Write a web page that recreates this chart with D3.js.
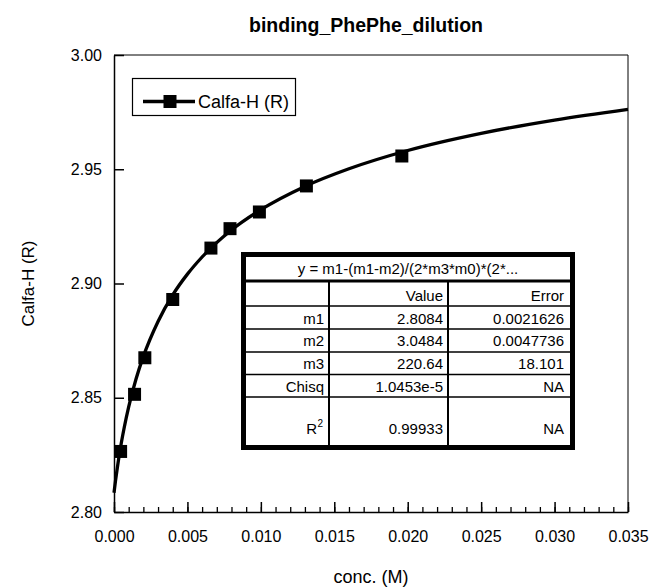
<!DOCTYPE html>
<html>
<head>
<meta charset="utf-8">
<script src="https://cdn.jsdelivr.net/npm/d3@7"></script>
<style>
  body { margin: 0; background: #fff; }
  svg { display: block; font-family: "Liberation Sans", Arial, sans-serif; }
</style>
</head>
<body>
<div id="chart"></div>
<script>
// measured points
const concX = [0.00045, 0.0014, 0.0021, 0.0040, 0.0066, 0.0079, 0.0099, 0.0131, 0.0196];
const calfaH = [2.8265, 2.8515, 2.8675, 2.8930, 2.9155, 2.9240, 2.9313, 2.9427, 2.9558];

// fitted curve
const fitX = [0, 0.0001, 0.0002, 0.0003, 0.0005, 0.0007, 0.001, 0.0015, 0.002, 0.003, 0.004,
  0.005, 0.006, 0.008, 0.010, 0.013, 0.016, 0.020, 0.025, 0.030, 0.035];
const fitY = [2.8084, 2.8135, 2.8182, 2.8225, 2.8303, 2.8371, 2.8460, 2.8582, 2.8681, 2.8834, 2.8950,
  2.9041, 2.9116, 2.9234, 2.9323, 2.9425, 2.9502, 2.9582, 2.9657, 2.9715, 2.9762];

const xTicks = [0, 0.005, 0.010, 0.015, 0.020, 0.025, 0.030, 0.035];
const yTicks = [2.80, 2.85, 2.90, 2.95, 3.00];

// fit result table
const fitEquation = 'y = m1-(m1-m2)/(2*m3*m0)*(2*...';
const paramNames = ['m1', 'm2', 'm3', 'Chisq', 'R'];
const paramValues = ['2.8084', '3.0484', '220.64', '1.0453e-5', '0.99933'];
const paramErrors = ['0.0021626', '0.0047736', '18.101', 'NA', 'NA'];

const W = 649, H = 588;
const margin = {top: 55, right: 21, bottom: 76, left: 114};

const svg = d3.select('#chart').append('svg')
  .attr('width', W)
  .attr('height', H);

const x = d3.scaleLinear().domain([0, 0.035]).range([margin.left, W - margin.right]);
const y = d3.scaleLinear().domain([2.80, 3.00]).range([H - margin.bottom, margin.top]);

// frame (top + right)
svg.append('path')
  .attr('d', `M${x(0)},${y(3)}H${x(0.035)}V${y(2.8)}`)
  .attr('fill', 'none')
  .attr('stroke', '#000')
  .attr('stroke-width', 1);

// minor x ticks
svg.append('g')
  .attr('transform', `translate(0,${y(2.8)})`)
  .call(d3.axisBottom(x).tickValues(d3.range(0, 36).map(i => i / 1000)).tickSize(-5).tickFormat(''))
  .call(g => g.select('.domain').remove())
  .call(g => g.selectAll('line').attr('stroke-width', 1.3));

const xAxis = svg.append('g')
  .attr('transform', `translate(0,${y(2.8)})`)
  .call(d3.axisBottom(x).tickValues(xTicks).tickFormat(d3.format('.3f'))
    .tickSize(-10).tickSizeOuter(0).tickPadding(19));
xAxis.selectAll('text').attr('font-size', 16).attr('font-family', null).attr('fill', '#000');
xAxis.selectAll('line, .domain').attr('stroke-width', 1.5);

const yAxis = svg.append('g')
  .attr('transform', `translate(${x(0)},0)`)
  .call(d3.axisLeft(y).tickValues(yTicks).tickFormat(d3.format('.2f'))
    .tickSize(-10).tickSizeOuter(0).tickPadding(12));
yAxis.selectAll('text').attr('font-size', 16).attr('font-family', null).attr('fill', '#000');
yAxis.selectAll('line, .domain').attr('stroke-width', 1.5);

// title and axis labels
svg.append('text')
  .attr('x', 366).attr('y', 32)
  .attr('text-anchor', 'middle')
  .attr('font-size', 19.5).attr('font-weight', 'bold')
  .text('binding_PhePhe_dilution');

svg.append('text')
  .attr('x', (x(0) + x(0.035)) / 2).attr('y', 583)
  .attr('text-anchor', 'middle')
  .attr('font-size', 18)
  .text('conc. (M)');

svg.append('text')
  .attr('transform', `translate(34,${(y(2.8) + y(3)) / 2}) rotate(-90)`)
  .attr('text-anchor', 'middle')
  .attr('font-size', 17)
  .text('Calfa-H (R)');

// fit curve
const fitData = fitX.map((v, i) => ({x: v, y: fitY[i]}));
svg.append('path')
  .datum(fitData)
  .attr('fill', 'none')
  .attr('stroke', '#000')
  .attr('stroke-width', 3.3)
  .attr('stroke-linejoin', 'round')
  .attr('d', d3.line().x(d => x(d.x)).y(d => y(d.y)).curve(d3.curveMonotoneX));

// data markers
const ms = 13;
svg.selectAll('.pt')
  .data(concX.map((v, i) => ({x: v, y: calfaH[i]})))
  .enter()
  .append('rect')
  .attr('class', 'pt')
  .attr('x', d => x(d.x) - ms / 2)
  .attr('y', d => y(d.y) - ms / 2)
  .attr('width', ms)
  .attr('height', ms)
  .attr('fill', '#000');

// legend
const lg = svg.append('g');
lg.append('rect')
  .attr('x', 132.5).attr('y', 78.5).attr('width', 163).attr('height', 37)
  .attr('fill', '#fff').attr('stroke', '#000').attr('stroke-width', 1.2);
lg.append('line')
  .attr('x1', 143).attr('x2', 195).attr('y1', 101.5).attr('y2', 101.5)
  .attr('stroke', '#000').attr('stroke-width', 3.3);
lg.append('rect')
  .attr('x', 170 - ms / 2).attr('y', 101.5 - ms / 2).attr('width', ms).attr('height', ms)
  .attr('fill', '#000');
lg.append('text')
  .attr('x', 198).attr('y', 107.5)
  .attr('font-size', 18)
  .text('Calfa-H (R)');

// parameter table
const tb = svg.append('g');
const tL = 246, tR = 570, tT = 257, tB = 445;
const col1 = 329, col2 = 448;
const rowLines = [281, 306, 329, 352, 374.5, 397];
const fs = 15;
tb.append('rect')
  .attr('x', tL).attr('y', tT).attr('width', tR - tL).attr('height', tB - tT)
  .attr('fill', '#fff');
rowLines.slice(1).forEach(ry => {
  tb.append('line')
    .attr('x1', tL).attr('x2', tR).attr('y1', ry).attr('y2', ry)
    .attr('stroke', '#000').attr('stroke-width', 1.3);
});
tb.append('line')
  .attr('x1', tL).attr('x2', tR).attr('y1', rowLines[0]).attr('y2', rowLines[0])
  .attr('stroke', '#000').attr('stroke-width', 3);
[col1, col2].forEach(cx => {
  tb.append('line')
    .attr('x1', cx).attr('x2', cx).attr('y1', rowLines[0]).attr('y2', tB)
    .attr('stroke', '#000').attr('stroke-width', 2);
});
tb.append('rect')
  .attr('x', 243.5).attr('y', 254.5).attr('width', 329).attr('height', 193)
  .attr('fill', 'none').attr('stroke', '#000').attr('stroke-width', 5);

tb.append('text')
  .attr('x', (tL + tR) / 2).attr('y', 273.5)
  .attr('text-anchor', 'middle').attr('font-size', fs)
  .text(fitEquation);

const cellText = (tx, ty, s) => tb.append('text')
  .attr('x', tx).attr('y', ty)
  .attr('text-anchor', 'end').attr('font-size', fs)
  .text(s);

cellText(443, 300.5, 'Value');
cellText(564, 300.5, 'Error');
const baselines = [323.5, 346, 369, 391.5, 434];
paramNames.forEach((n, i) => {
  cellText(n === 'R' ? 317 : 324, baselines[i], n);
  if (n === 'R') {
    tb.append('text').attr('x', 317.5).attr('y', baselines[i] - 7)
      .attr('font-size', 10).text('2');
  }
  cellText(443, baselines[i], paramValues[i]);
  cellText(564, baselines[i], paramErrors[i]);
});
</script>
</body>
</html>
